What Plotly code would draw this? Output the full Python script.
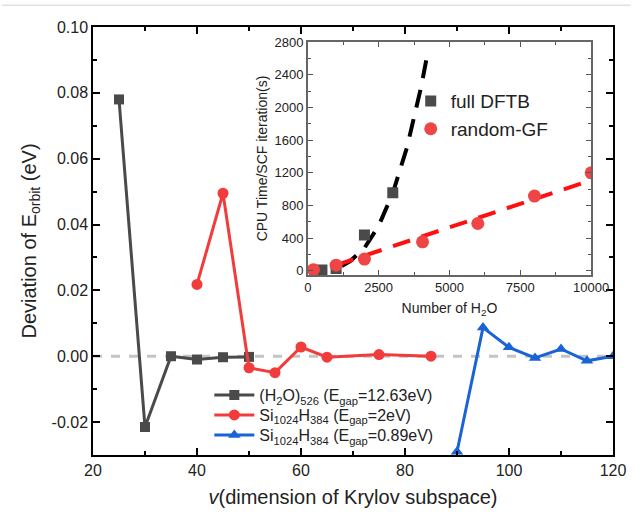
import plotly.graph_objects as go

# ---- main panel data ----
h2o_x = [25, 30, 35, 40, 45, 50]
h2o_y = [0.078, -0.0215, 0.0, -0.001, -0.0003, -0.0002]

si2_x = [40, 45, 50, 55, 60, 65, 75, 85]
si2_y = [0.0218, 0.0495, -0.0035, -0.005, 0.0028, -0.0003, 0.0005, 0.0]

si089_x = [90, 95, 100, 105, 110, 115, 120]
si089_y = [-0.029, 0.0087, 0.0027, -0.0005, 0.0022, -0.0014, 0.0]

y_tickvals = [-0.02, 0.0, 0.02, 0.04, 0.06, 0.08, 0.10]
y_ticktext = ["-0.02", "0.00", "0.02", "0.04", "0.06", "0.08", "0.10"]

# ---- inset data ----
dftb_n = [250, 500, 1000, 2000, 3000]
dftb_t = [5, 10, 30, 440, 955]
gf_n = [200, 1000, 2000, 4050, 6000, 8000, 10000]
gf_t = [15, 70, 145, 355, 580, 915, 1200]
dftb_fit_n = [1200, 1500, 2000, 2500, 3000, 3500, 4000, 4250]
dftb_fit_t = [60, 120, 280, 550, 950, 1510, 2250, 2700]
gf_fit_n = [1000, 10000]
gf_fit_t = [70, 1110]

inset_xticks = [0, 2500, 5000, 7500, 10000]
inset_xtext = ["0", "2500", "5000", "7500", "10000"]

GRAY = "#4a4a4a"
RED = "#f23b3b"
BLUE = "#1a63d6"
FONT = "Liberation Sans, Arial, sans-serif"

fig = go.Figure()

fig.add_trace(go.Scatter(
    x=h2o_x, y=h2o_y, mode="lines+markers",
    line=dict(color=GRAY, width=3), marker=dict(symbol="square", size=10, color=GRAY),
    name="(H<sub>2</sub>O)<sub>526</sub> (E<sub>gap</sub>=12.63eV)", legend="legend"))
fig.add_trace(go.Scatter(
    x=si2_x, y=si2_y, mode="lines+markers",
    line=dict(color=RED, width=3), marker=dict(symbol="circle", size=11, color=RED),
    name="Si<sub>1024</sub>H<sub>384</sub> (E<sub>gap</sub>=2eV)", legend="legend3"))
fig.add_trace(go.Scatter(
    x=si089_x, y=si089_y, mode="lines+markers",
    line=dict(color=BLUE, width=3), marker=dict(symbol="triangle-up", size=11, color=BLUE),
    name="Si<sub>1024</sub>H<sub>384</sub> (E<sub>gap</sub>=0.89eV)", legend="legend4"))

# inset
fig.add_trace(go.Scatter(
    x=dftb_fit_n, y=dftb_fit_t, mode="lines", xaxis="x2", yaxis="y2",
    line=dict(color="black", width=4, dash="18px,12px"), showlegend=False))
fig.add_trace(go.Scatter(
    x=gf_fit_n, y=gf_fit_t, mode="lines", xaxis="x2", yaxis="y2",
    line=dict(color="#ff1010", width=4, dash="18px,12px"), showlegend=False))
fig.add_trace(go.Scatter(
    x=dftb_n, y=dftb_t, mode="markers", xaxis="x2", yaxis="y2",
    marker=dict(symbol="square", size=11, color=GRAY),
    name="full DFTB", legend="legend2"))
fig.add_trace(go.Scatter(
    x=gf_n, y=gf_t, mode="markers", xaxis="x2", yaxis="y2",
    marker=dict(symbol="circle", size=13, color="#f04545"),
    name="random-GF", legend="legend2"))

axis_common = dict(showgrid=False, zeroline=False, showline=True, mirror="allticks",
                   ticks="inside", tickcolor="black", linecolor="black", linewidth=1.5,
                   ticklen=7, tickwidth=1.5)

main_leg = dict(x=0.2237, xanchor="left", yanchor="middle", bgcolor="rgba(0,0,0,0)",
                font=dict(size=16, family=FONT, color="#222"), itemwidth=40)

fig.update_layout(
    width=643, height=521,
    margin=dict(l=93, r=18, t=27, b=66),
    paper_bgcolor="white", plot_bgcolor="white",
    font=dict(family=FONT, color="#222"),
    xaxis=dict(**axis_common, range=[20, 120], dtick=20, tick0=20,
               tickfont=dict(size=16, family=FONT, color="#222"),
               minor=dict(ticks="inside", dtick=10, ticklen=4, tickcolor="black", tickwidth=1.5),
               title=dict(text="<i>v</i>(dimension of Krylov subspace)",
                          font=dict(size=20, family=FONT, color="#222"), standoff=12)),
    yaxis=dict(**axis_common, range=[-0.03, 0.10], tickvals=y_tickvals, ticktext=y_ticktext,
               tickfont=dict(size=16, family=FONT, color="#222"),
               minor=dict(ticks="inside", dtick=0.01, ticklen=4, tickcolor="black", tickwidth=1.5),
               title=dict(text="Deviation of E<sub>orbit</sub> (eV)",
                          font=dict(size=20, family=FONT, color="#222"), standoff=10)),
    xaxis2=dict(domain=[0.413, 0.958], anchor="y2", range=[0, 10000],
                tickvals=inset_xticks, ticktext=inset_xtext,
                showgrid=False, zeroline=False, showline=True, mirror="allticks",
                ticks="inside", ticklen=5, tickwidth=1, tickcolor="#555", linecolor="#666", linewidth=1.5,
                minor=dict(ticks="inside", dtick=1250, ticklen=3, tickcolor="#555"),
                tickfont=dict(size=13, family=FONT, color="#222"),
                title=dict(text="Number of H<sub>2</sub>O", font=dict(size=14, family=FONT, color="#222"),
                           standoff=9)),
    yaxis2=dict(domain=[0.4206, 0.965], anchor="x2", range=[-50, 2800], dtick=400, tick0=0,
                showgrid=False, zeroline=False, showline=True, mirror="allticks",
                ticks="inside", ticklen=5, tickwidth=1, tickcolor="#555", linecolor="#666", linewidth=1.5,
                minor=dict(ticks="inside", dtick=200, ticklen=3, tickcolor="#555"),
                tickfont=dict(size=13, family=FONT, color="#222"),
                title=dict(text="CPU Time/SCF iteration(s)", font=dict(size=14, family=FONT, color="#222"),
                           standoff=4)),
    legend=dict(**main_leg, y=0.1402),
    legend3=dict(**main_leg, y=0.0935),
    legend4=dict(**main_leg, y=0.0467),
    legend2=dict(x=0.611, y=0.871, xanchor="left", yanchor="top", bgcolor="rgba(0,0,0,0)",
                 font=dict(size=19, family=FONT, color="#222"), tracegroupgap=0),
    shapes=[
        dict(type="line", xref="x", yref="y", x0=20, x1=120, y0=0, y1=0, layer="below",
             line=dict(color="#c4c4c4", width=3, dash="dash")),
        dict(type="line", xref="paper", yref="paper", x0=-0.175, x1=1.034, y0=1.051, y1=1.051,
             line=dict(color="#d0d0d0", width=1)),
    ],
)

fig.write_html("out.html", config={"displayModeBar": False},
               post_script="document.body.style.margin='0';document.body.style.padding='0';")
